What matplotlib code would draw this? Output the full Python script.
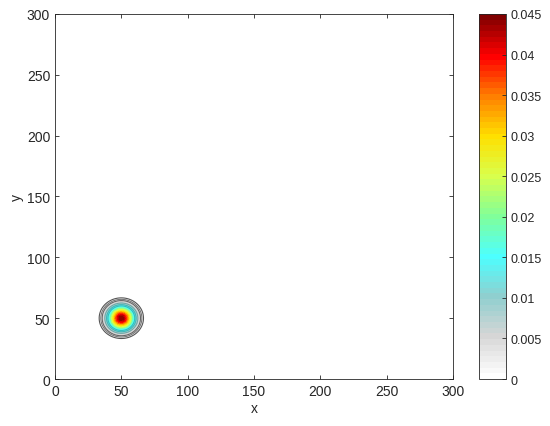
import numpy as np
import matplotlib
matplotlib.use('Agg')
import matplotlib.pyplot as plt
from matplotlib.colors import LinearSegmentedColormap, Normalize
from matplotlib.cm import ScalarMappable

# Gaussian bump parameters
center_x = 50
center_y = 50
sigma = 6.2
peak = 0.045
fill_levels = np.linspace(0.003, 0.045, 30)
line_levels = [0.0012, 0.002, 0.003, 0.006, 0.009, 0.012]
line_colors = ['#555555', '#777777', '#666666', '#6fa8a8', '#3fb8b8', '#30c0c0']

# colormap anchors (value, colour)
cmap_values = [0, 0.005, 0.01, 0.015, 0.02, 0.025, 0.03, 0.035, 0.04, 0.045]
cmap_colors = ['#ffffff', '#d6d6d6', '#8fcfcf', '#4dffff', '#80ff9a',
               '#d8ff4d', '#ffe000', '#ff8000', '#ff0000', '#800000']
ticks_xy = [0, 50, 100, 150, 200, 250, 300]
cbar_ticks = [0, 0.005, 0.01, 0.015, 0.02, 0.025, 0.03, 0.035, 0.04, 0.045]

cmap = LinearSegmentedColormap.from_list(
    'custom', [(v / peak, c) for v, c in zip(cmap_values, cmap_colors)], N=64)
norm = Normalize(0, peak)

x = np.linspace(0, 300, 901)
y = np.linspace(0, 300, 901)
X, Y = np.meshgrid(x, y)
Z = peak * np.exp(-((X - center_x)**2 + (Y - center_y)**2) / (2 * sigma**2))

txt = '#262626'
plt.rcParams['font.family'] = ['Liberation Sans', 'DejaVu Sans']
plt.rcParams['font.size'] = 10

fig = plt.figure(figsize=(5.5, 4.27), dpi=100)
ax = fig.add_axes([0.1, 0.11, 0.7236, 0.855])
ax.contourf(X, Y, Z, levels=fill_levels, cmap=cmap, norm=norm)
ax.contour(X, Y, Z, levels=line_levels, colors=line_colors, linewidths=0.8)
ax.set_xlim(0, 300)
ax.set_ylim(0, 300)
ax.set_xticks(ticks_xy)
ax.set_yticks(ticks_xy)
ax.set_xlabel('x', color=txt, labelpad=2)
ax.set_ylabel('y', color=txt, labelpad=2)
ax.tick_params(direction='in', length=3, colors=txt, top=True, right=True, width=0.6)
for s in ax.spines.values():
    s.set_color('#262626')
    s.set_linewidth(0.6)

cax = fig.add_axes([0.871, 0.11, 0.049, 0.855])
cb = fig.colorbar(ScalarMappable(norm=norm, cmap=cmap), cax=cax)
cb.set_ticks(cbar_ticks)
cb.set_ticklabels(['0', '0.005', '0.01', '0.015', '0.02', '0.025', '0.03', '0.035', '0.04', '0.045'])
cax.tick_params(direction='in', length=3, colors=txt, width=0.6, labelsize=9)
cb.outline.set_edgecolor('#262626')
cb.outline.set_linewidth(0.6)

fig.savefig('out.png', dpi=100)
